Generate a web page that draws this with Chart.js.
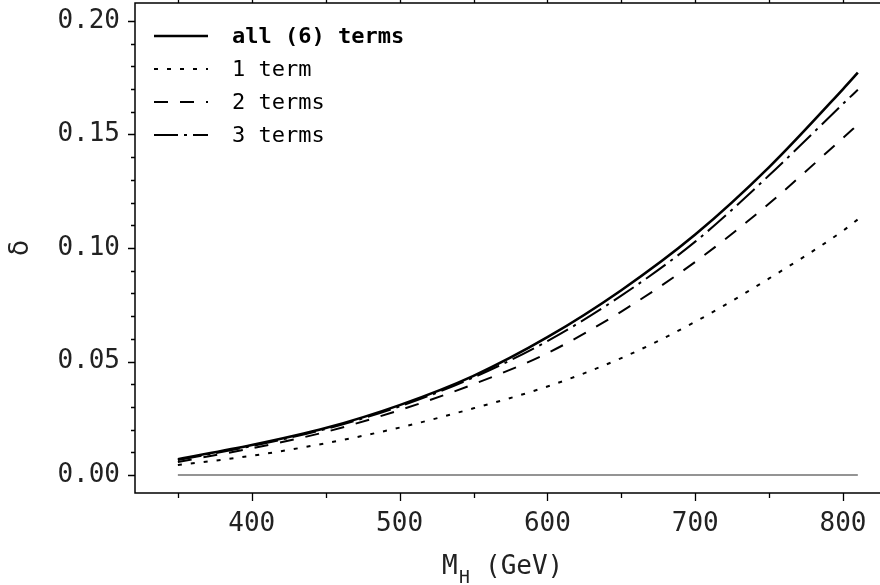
<!DOCTYPE html>
<html>
<head>
<meta charset="utf-8">
<script src="https://cdn.jsdelivr.net/npm/chart.js@4.4.1/dist/chart.umd.min.js"></script>
<style>
  html, body { margin: 0; padding: 0; background: #fff; }
  #wrap { width: 880px; height: 585px; }
</style>
</head>
<body>
<div id="wrap"><canvas id="deltaChart" width="880" height="585"></canvas></div>
<script>
// M_H in GeV and delta for each truncation of the series
const mass = [350, 400, 450, 500, 550, 600, 650, 700, 750, 800, 810];
const allTerms = [0.0070, 0.0132, 0.0207, 0.0308, 0.0437, 0.0607, 0.0814, 0.1059, 0.1356, 0.1700, 0.1772];
const oneTerm = [0.0044, 0.0085, 0.0140, 0.0209, 0.0294, 0.0390, 0.0515, 0.0675, 0.0866, 0.1076, 0.1126];
const twoTerms = [0.0058, 0.0118, 0.0190, 0.0286, 0.0400, 0.0537, 0.0720, 0.0939, 0.1196, 0.1485, 0.1543];
const threeTerms = [0.0066, 0.0128, 0.0203, 0.0302, 0.0430, 0.0590, 0.0790, 0.1028, 0.1320, 0.1635, 0.1697];
const zeroLine = [0, 0];
const zeroMass = [350, 810];

const xTicks = [350, 400, 450, 500, 550, 600, 650, 700, 750, 800];
const yTicks = [];
for (let i = 0; i <= 20; i++) yTicks.push(i / 100);

const legendRows = [
    { label: 'all (6) terms', dash: [], width: 2.6, bold: true },
    { label: '1 term', dash: [4, 9], width: 2, bold: false },
    { label: '2 terms', dash: [14, 12], width: 2, bold: false },
    { label: '3 terms', dash: [24, 6, 3, 6], width: 2, bold: false }
];

function pts(xs, ys) {
    return xs.map((x, i) => ({ x: x, y: ys[i] }));
}

Chart.defaults.font.family = "'DejaVu Sans Mono', monospace";
Chart.defaults.color = '#222';

// frame, tick marks, legend and axis titles
const framePlugin = {
    id: 'frame',
    afterDraw(chart) {
        const ctx = chart.ctx;
        const a = chart.chartArea;
        const xs = chart.scales.x;
        const ys = chart.scales.y;
        ctx.save();
        ctx.strokeStyle = '#000';
        ctx.lineWidth = 1.5;
        ctx.beginPath();
        ctx.moveTo(chart.width, a.top);
        ctx.lineTo(a.left, a.top);
        ctx.lineTo(a.left, a.bottom);
        ctx.lineTo(chart.width, a.bottom);
        ctx.stroke();

        ctx.lineWidth = 1.3;
        ctx.beginPath();
        xTicks.forEach(v => {
            const px = Math.round(xs.getPixelForValue(v)) + 0.5;
            const major = v % 100 === 0;
            ctx.moveTo(px, a.bottom);
            ctx.lineTo(px, a.bottom + (major ? 8 : 5));
            ctx.moveTo(px, a.top);
            ctx.lineTo(px, 0);
        });
        yTicks.forEach(v => {
            const py = Math.round(ys.getPixelForValue(v)) + 0.5;
            const major = Math.round(v * 100) % 5 === 0;
            ctx.moveTo(a.left, py);
            ctx.lineTo(a.left - (major ? 7 : 4), py);
        });
        ctx.stroke();

        // legend
        legendRows.forEach((r, i) => {
            const y = 36 + i * 33;
            ctx.beginPath();
            ctx.setLineDash(r.dash);
            ctx.lineWidth = r.width;
            ctx.moveTo(154, y);
            ctx.lineTo(208, y);
            ctx.stroke();
            ctx.setLineDash([]);
            ctx.font = (r.bold ? 'bold ' : '') + "22px 'DejaVu Sans Mono'";
            ctx.fillStyle = '#000';
            ctx.textBaseline = 'middle';
            ctx.textAlign = 'left';
            ctx.fillText(r.label, 232, y + 1);
        });

        // y title
        ctx.save();
        ctx.translate(21, 248);
        ctx.rotate(-Math.PI / 2);
        ctx.font = "26px 'DejaVu Sans'";
        ctx.textAlign = 'center';
        ctx.textBaseline = 'middle';
        ctx.fillStyle = '#222';
        ctx.fillText('\u03b4', 0, 0);
        ctx.restore();

        // x title with subscript
        ctx.fillStyle = '#222';
        ctx.textBaseline = 'alphabetic';
        ctx.textAlign = 'left';
        ctx.font = "26px 'DejaVu Sans Mono'";
        ctx.fillText('M', 442, 574);
        ctx.font = "18px 'DejaVu Sans Mono'";
        ctx.fillText('H', 459, 583);
        ctx.font = "26px 'DejaVu Sans Mono'";
        ctx.fillText('(GeV)', 485, 574);
        ctx.restore();
    }
};

const ctx = document.getElementById('deltaChart').getContext('2d');
const deltaChart = new Chart(ctx, {
    type: 'line',
    data: {
        datasets: [{
            label: 'zero',
            data: pts(zeroMass, zeroLine),
            borderColor: '#707070',
            borderWidth: 1.5,
            tension: 0
        }, {
            label: '1 term',
            data: pts(mass, oneTerm),
            borderColor: '#000',
            borderWidth: 2,
            borderDash: [4, 9]
        }, {
            label: '2 terms',
            data: pts(mass, twoTerms),
            borderColor: '#000',
            borderWidth: 2,
            borderDash: [14, 12]
        }, {
            label: '3 terms',
            data: pts(mass, threeTerms),
            borderColor: '#000',
            borderWidth: 2,
            borderDash: [24, 6, 3, 6]
        }, {
            label: 'all (6) terms',
            data: pts(mass, allTerms),
            borderColor: '#000',
            borderWidth: 2.6
        }]
    },
    options: {
        responsive: false,
        animation: false,
        layout: { padding: { top: 3, right: 0, left: 0, bottom: 0 } },
        elements: {
            point: { radius: 0 },
            line: { cubicInterpolationMode: 'monotone', fill: false }
        },
        plugins: {
            legend: { display: false },
            tooltip: { enabled: false }
        },
        scales: {
            x: {
                type: 'linear',
                min: 321,
                max: 825,
                grid: { display: false, drawTicks: false },
                border: { display: false },
                afterBuildTicks: s => { s.ticks = xTicks.map(v => ({ value: v })); },
                afterFit: s => { s.height = 92; s.paddingLeft = 0; s.paddingRight = 0; },
                ticks: {
                    autoSkip: false,
                    maxRotation: 0,
                    padding: 16,
                    font: { size: 26 },
                    callback: v => (v % 100 === 0 ? String(v) : '')
                }
            },
            y: {
                min: -0.0079,
                max: 0.2079,
                grid: { display: false, drawTicks: false },
                border: { display: false },
                afterBuildTicks: s => { s.ticks = yTicks.map(v => ({ value: v })); },
                afterFit: s => { s.width = 135; s.paddingTop = 0; s.paddingBottom = 0; },
                ticks: {
                    autoSkip: false,
                    padding: 15,
                    font: { size: 26 },
                    callback: v => (Math.round(v * 100) % 5 === 0 ? v.toFixed(2) : '')
                }
            }
        }
    },
    plugins: [framePlugin]
});
</script>
</body>
</html>
